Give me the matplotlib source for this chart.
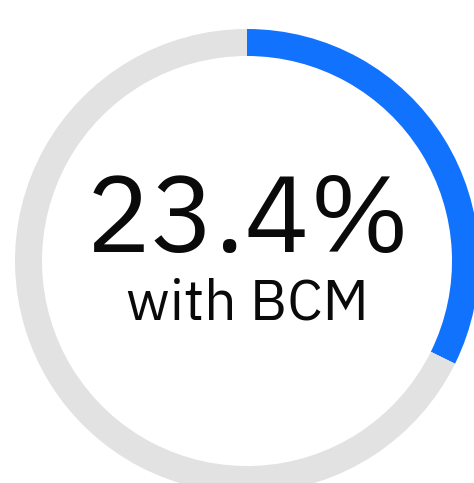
import matplotlib.pyplot as plt

# gauge data (arc share, label as shown)
segments = [32.3, 67.7]
segment_colors = ['#1172fe', '#e2e2e2']
big_label = '23.4%'
small_label = 'with BCM'

W, H = 474, 483
fig = plt.figure(figsize=(W / 100, H / 100), dpi=100)
ax = fig.add_axes([0, 0, 1, 1])

# ring
ax.pie(segments, colors=segment_colors, radius=232, center=(247, H - 261),
       startangle=90, counterclock=False,
       wedgeprops=dict(width=27, linewidth=0), frame=True)
ax.set_xlim(0, W)
ax.set_ylim(0, H)
ax.set_aspect('equal')
ax.axis('off')

fonts = ['IBM Plex Sans', 'Noto Sans', 'DejaVu Sans']
ax.text(248, H - 252, big_label, fontsize=78, family=fonts,
        ha='center', va='baseline', color='#0a0a0a')
ax.text(247, H - 319, small_label, fontsize=41, family=fonts,
        ha='center', va='baseline', color='#0a0a0a')

fig.savefig('out.png', dpi=100)
